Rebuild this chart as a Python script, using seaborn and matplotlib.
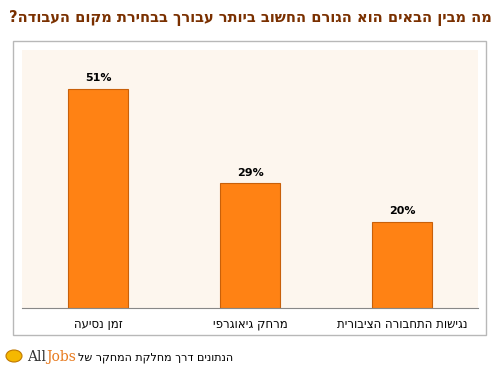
import matplotlib
matplotlib.use("Agg")
import matplotlib.pyplot as plt
import matplotlib.patches as mpatches
import pandas as pd
import seaborn as sns

# data
categories = ["זמן נסיעה", "מרחק גיאוגרפי", "נגישות התחבורה הציבורית"]
values = [51, 29, 20]
title = "מה מבין הבאים הוא הגורם החשוב ביותר עבורך בבחירת מקום העבודה?"
footer = "הנתונים דרך מחלקת המחקר של"

BAR_COLOR = "#ff8214"
EDGE_COLOR = "#c8600a"
PANEL_COLOR = "#fdf6ee"
TITLE_COLOR = "#7a3000"


# matplotlib has no bidi support, so flip RTL strings for display
def visual(s):
    return s[::-1]


df = pd.DataFrame({"category": categories, "value": values})

sns.set_style("white")
plt.rcParams["font.family"] = ["DejaVu Sans"]

fig = plt.figure(figsize=(5, 3.75), dpi=100)

# outer framed box around the plot
frame = mpatches.Rectangle((13 / 500, 1 - 335 / 375), (486 - 13) / 500, (335 - 41) / 375,
                           transform=fig.transFigure, facecolor="white",
                           edgecolor="#b8b8b8", linewidth=1.0, zorder=-5)
fig.patches.append(frame)

ax = fig.add_axes([22 / 500, 1 - 308 / 375, (478 - 22) / 500, (308 - 50) / 375])
ax.set_facecolor(PANEL_COLOR)

sns.barplot(data=df, x="category", y="value", color=BAR_COLOR, width=0.4,
            edgecolor=EDGE_COLOR, linewidth=0.8, saturation=1, ax=ax)

ax.set_ylim(0, 60)
ax.set_xlim(-0.5, len(categories) - 0.5)
ax.set_yticks([])
ax.set_xlabel("")
ax.set_ylabel("")

for i, v in enumerate(values):
    ax.text(i, v + 1.3, f"{v}%", ha="center", va="bottom", fontsize=8,
            fontweight="bold", color="black")

ax.set_xticks(range(len(categories)))
ax.set_xticklabels([visual(c) for c in categories], fontsize=8.5, color="black")
ax.tick_params(axis="x", length=0, pad=7)
# separator ticks between categories
ax.set_xticks([i - 0.5 for i in range(len(categories) + 1)], minor=True)
ax.tick_params(axis="x", which="minor", length=4, width=0.8, color="#888888", direction="inout")

for side in ["left", "right", "top"]:
    ax.spines[side].set_visible(False)
ax.spines["bottom"].set_color("#888888")
ax.spines["bottom"].set_linewidth(0.8)

fig.text(0.984, 1 - 18 / 375, visual(title), ha="right", va="center",
         fontsize=10.5, fontweight="bold", color=TITLE_COLOR)

# footer with source
fig.text(0.466, 1 - 358 / 375, visual(footer), ha="right", va="center", fontsize=8, color="black")
fig.text(0.092, 1 - 357 / 375, "All", ha="right", va="center", fontsize=10,
         family="DejaVu Serif", color="#333333")
fig.text(0.092, 1 - 357 / 375, "Jobs", ha="left", va="center", fontsize=10,
         family="DejaVu Serif", color="#e87a1e")
fig.patches.append(mpatches.Circle((0.028, 1 - 356 / 375), 0.016, transform=fig.transFigure,
                                   facecolor="#f5b800", edgecolor="#c07800", linewidth=0.8))

fig.savefig("out.png", dpi=100)
